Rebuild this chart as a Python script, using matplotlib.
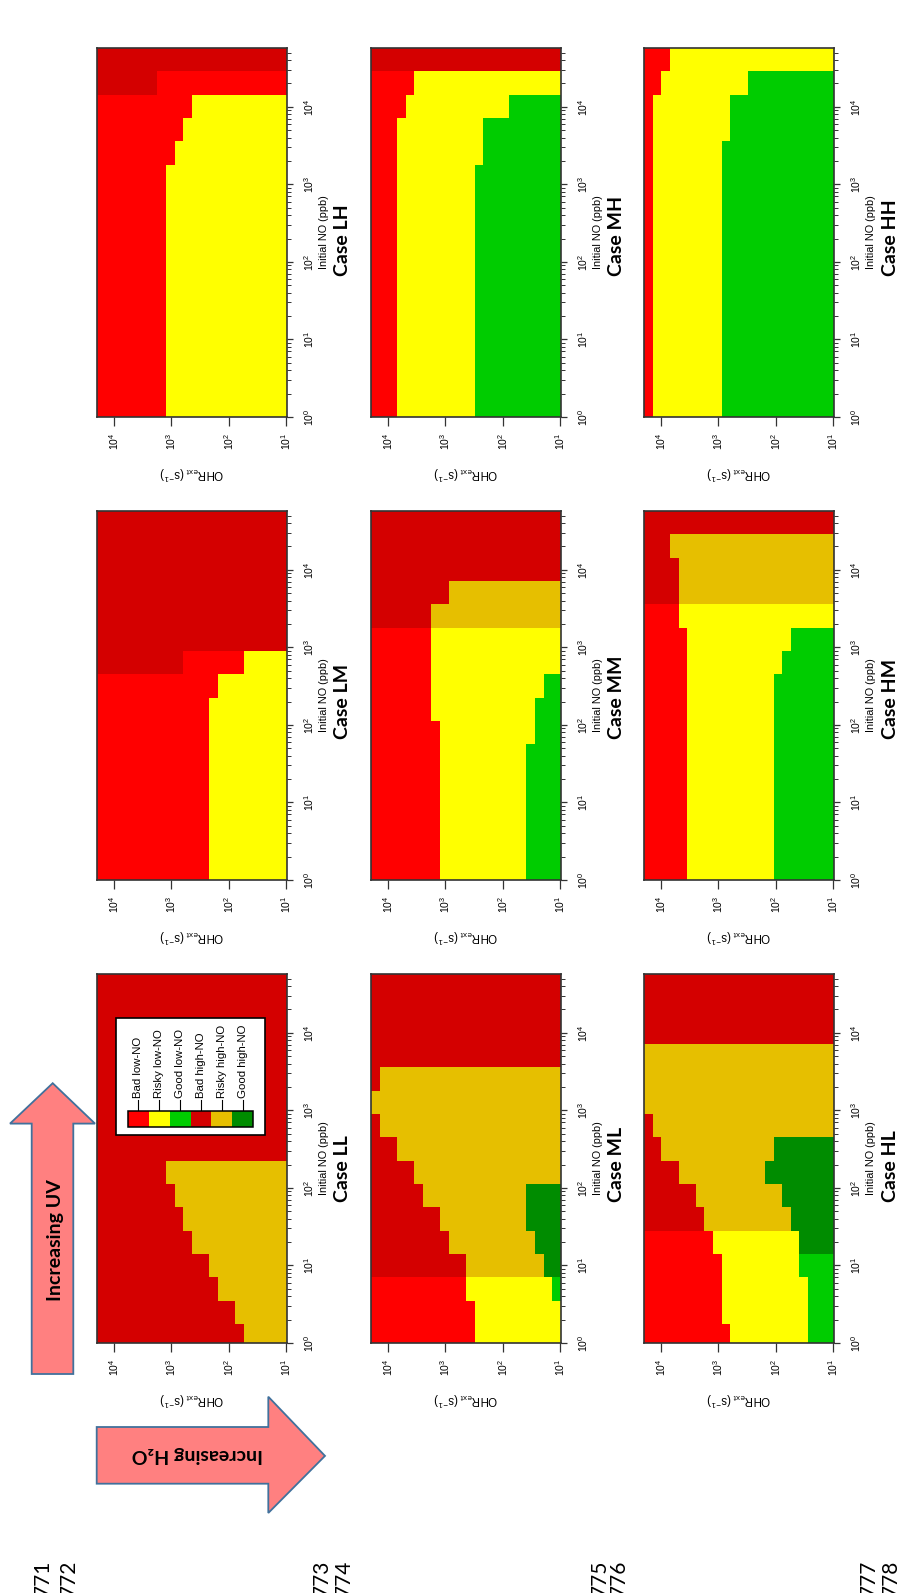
import numpy as np
import matplotlib
matplotlib.use("Agg")
import matplotlib.pyplot as plt
from matplotlib.colors import ListedColormap
from matplotlib.patches import Polygon, Rectangle
from matplotlib.lines import Line2D
from matplotlib.ticker import FixedLocator, NullLocator
from matplotlib.transforms import blended_transform_factory

plt.rcParams["font.family"] = ["Liberation Sans", "DejaVu Sans"]
plt.rcParams["mathtext.fontset"] = "custom"
plt.rcParams["mathtext.rm"] = "Liberation Sans"
plt.rcParams["mathtext.it"] = "Liberation Sans:italic"
plt.rcParams["mathtext.bf"] = "Liberation Sans:bold"
plt.rcParams["mathtext.default"] = "regular"

# =====================================================
# REGIME CLASSES
# =====================================================

regime_codes = ["r", "y", "g", "R", "Y", "G"]
regime_names = ["Bad low-NO", "Risky low-NO", "Good low-NO",
                "Bad high-NO", "Risky high-NO", "Good high-NO"]
regime_colors = ["#FF0000", "#FFFF00", "#00CC00",
                 "#D40000", "#E6BF00", "#008C00"]

# =====================================================
# MODEL GRID
# OHR_ext cells step by sqrt(2), initial NO cells by 2
# =====================================================

ohr_log_range = (4.30, 0.98)     # high OHR first
n_ohr_cells = 22
no_log_top = 4.758
no_log_step = 0.301
n_no_cells = 16

ohr_ticks = [1e1, 1e2, 1e3, 1e4]
no_ticks = [1e0, 1e1, 1e2, 1e3, 1e4]

# =====================================================
# REGIME MAPS
# one entry per NO band (highest NO first), runs of
# regime code + cell count from high to low OHR_ext
# =====================================================

case_LH = ["R22", "R7 r15", "r11 y11", "r10 y12", "r9 y13",
           "r8 y14", "r8 y14", "r8 y14", "r8 y14", "r8 y14", "r8 y14",
           "r8 y14", "r8 y14", "r8 y14", "r8 y14", "r8 y14"]

case_MH = ["R22", "r5 y17", "r4 y12 g6", "r3 y10 g9", "r3 y10 g9",
           "r3 y9 g10", "r3 y9 g10", "r3 y9 g10", "r3 y9 g10", "r3 y9 g10",
           "r3 y9 g10", "r3 y9 g10", "r3 y9 g10", "r3 y9 g10", "r3 y9 g10",
           "r3 y9 g10"]

case_HH = ["r3 y19", "r2 y10 g10", "r1 y9 g12", "r1 y9 g12",
           "r1 y8 g13", "r1 y8 g13", "r1 y8 g13", "r1 y8 g13", "r1 y8 g13",
           "r1 y8 g13", "r1 y8 g13", "r1 y8 g13", "r1 y8 g13", "r1 y8 g13",
           "r1 y8 g13", "r1 y8 g13"]

case_LM = ["R22", "R22", "R22", "R22", "R22", "R22",
           "R10 r7 y5", "r14 y8",
           "r13 y9", "r13 y9", "r13 y9", "r13 y9", "r13 y9", "r13 y9",
           "r13 y9", "r13 y9"]

case_MM = ["R22", "R22", "R22", "R9 Y13", "R7 Y15", "r7 y15", "r7 y15",
           "r7 y13 g2", "r7 y12 g3", "r8 y11 g3",
           "r8 y10 g4", "r8 y10 g4", "r8 y10 g4", "r8 y10 g4", "r8 y10 g4",
           "r8 y10 g4"]

case_HM = ["R22", "R3 Y19", "R4 Y18", "R4 Y18", "r4 y18",
           "r5 y12 g5", "r5 y11 g6",
           "r5 y10 g7", "r5 y10 g7", "r5 y10 g7", "r5 y10 g7", "r5 y10 g7",
           "r5 y10 g7", "r5 y10 g7", "r5 y10 g7", "r5 y10 g7"]

case_LL = ["R22", "R22", "R22", "R22", "R22", "R22", "R22", "R22",
           "R8 Y14", "R9 Y13", "R10 Y12", "R11 Y11", "R13 Y9", "R14 Y8",
           "R16 Y6", "R17 Y5"]

case_ML = ["R22", "R22", "R22", "R22", "R1 Y21", "Y22", "R1 Y21",
           "R3 Y19", "R5 Y17", "R6 Y12 G4", "R8 Y10 G4", "R9 Y10 G3",
           "R11 Y9 G2", "r11 y10 g1", "r12 y10", "r12 y10"]

case_HL = ["R22", "R22", "R22", "Y22", "Y22", "Y22", "R1 Y21",
           "R2 Y13 G7", "R4 Y10 G8", "R6 Y10 G6", "R7 Y10 G5",
           "r8 y10 G4", "r9 y9 g4", "r9 y10 g3", "r9 y10 g3", "r10 y9 g3"]

panel_rows = [
    [("LH", case_LH), ("MH", case_MH), ("HH", case_HH)],
    [("LM", case_LM), ("MM", case_MM), ("HM", case_HM)],
    [("LL", case_LL), ("ML", case_ML), ("HL", case_HL)],
]

line_numbers = ["771", "772", "773", "774", "775", "776", "777", "778"]


def expand_runs(bands):
    """Turn run strings into a (NO band, OHR cell) index grid."""
    grid = []
    for band in bands:
        cells = []
        for run in band.split():
            cells += [regime_codes.index(run[0])] * int(run[1:])
        grid.append(cells)
    return np.array(grid)


# =====================================================
# FIGURE LAYOUT (pixel units, origin top-left)
# =====================================================

W, H = 901, 1593
fig = plt.figure(figsize=(W / 100, H / 100), dpi=100)
fig.patch.set_facecolor("white")


def fx(x):
    return x / W


def fy(y):
    return 1 - y / H


col_x = [97, 371, 644]
row_y = [48, 511, 974]
pw, ph = 190, 369

cmap = ListedColormap(regime_colors)

ohr_edges = np.logspace(ohr_log_range[0], ohr_log_range[1], n_ohr_cells + 1)
no_edges = 10 ** (no_log_top - no_log_step * np.arange(n_no_cells + 1))

no_minor = [m * 10 ** k for k in range(5) for m in range(2, 10)
            if m * 10 ** k < 10 ** no_log_top]

frame_color = "#333333"
tick_size = 7.5

for r, row in enumerate(panel_rows):
    for c, (case_name, bands) in enumerate(row):
        x0, y0 = col_x[c], row_y[r]
        ax = fig.add_axes([fx(x0), fy(y0 + ph), pw / W, ph / H])
        ax.set_xscale("log")
        ax.set_yscale("log")

        ax.pcolormesh(
            ohr_edges,
            no_edges,
            expand_runs(bands),
            cmap=cmap,
            vmin=-0.5,
            vmax=5.5,
            shading="flat"
        )

        ax.set_xlim(10 ** ohr_log_range[0], 10 ** ohr_log_range[1])
        ax.set_ylim(1, 10 ** no_log_top)

        # ticks: OHR along the bottom, NO on the right
        ax.yaxis.tick_right()
        ax.xaxis.set_major_locator(FixedLocator(ohr_ticks))
        ax.xaxis.set_minor_locator(NullLocator())
        ax.yaxis.set_major_locator(FixedLocator(no_ticks))
        ax.yaxis.set_minor_locator(FixedLocator(no_minor))

        ax.tick_params(axis="x", which="major", direction="out",
                       length=6.5, width=0.9, color=frame_color,
                       labelbottom=False)
        ax.tick_params(axis="y", which="major", direction="out",
                       length=4.3, width=0.9, color=frame_color,
                       labelright=False, labelleft=False)
        ax.tick_params(axis="y", which="minor", direction="out",
                       length=2.7, width=0.7, color=frame_color,
                       labelright=False, labelleft=False)

        for spine in ax.spines.values():
            spine.set_linewidth(1.2)
            spine.set_color(frame_color)

        # tick labels, drawn sideways
        tr_x = blended_transform_factory(ax.transData, ax.transAxes)
        tr_y = blended_transform_factory(ax.transAxes, ax.transData)

        for t in ohr_ticks:
            ax.text(t, -24 / ph, r"$10^{%d}$" % round(np.log10(t)),
                    transform=tr_x, rotation=90, ha="center", va="center",
                    fontsize=tick_size, clip_on=False)

        for t in no_ticks:
            ax.text(1 + 22 / pw, t, r"$10^{%d}$" % round(np.log10(t)),
                    transform=tr_y, rotation=90, ha="center", va="center",
                    fontsize=tick_size, clip_on=False)

        # axis titles and case name
        fig.text(fx(x0 + pw + 37), fy(y0 + ph / 2), "Initial NO (ppb)",
                 rotation=90, ha="center", va="center", fontsize=7.8)

        fig.text(fx(x0 + pw / 2), fy(y0 + ph + 56),
                 r"OHR$_{ext}$ (s$^{-1}$)",
                 rotation=180, ha="center", va="center", fontsize=8.3)

        fig.text(fx(x0 + pw + 56), fy(y0 + ph - 141), f"Case {case_name}",
                 rotation=90, ha="center", va="bottom", fontsize=14,
                 fontweight="bold", family=["Lato", "DejaVu Sans"])

# =====================================================
# LEGEND (inside Case LL)
# =====================================================

fig.patches.append(Rectangle(
    (fx(116), fy(1135)), (265 - 116) / W, (1135 - 1018) / H,
    transform=fig.transFigure, facecolor="white",
    edgecolor="black", linewidth=1.2, zorder=5
))

bar_x0, bar_x1 = 128, 253
bar_top, bar_bot = 1111, 1127
seg_w = (bar_x1 - bar_x0) / len(regime_names)

for i, (name, color) in enumerate(zip(regime_names, regime_colors)):
    sx = bar_x0 + i * seg_w
    fig.patches.append(Rectangle(
        (fx(sx), fy(bar_bot)), seg_w / W, (bar_bot - bar_top) / H,
        transform=fig.transFigure, facecolor=color,
        edgecolor="none", zorder=6
    ))
    cx = sx + seg_w / 2
    fig.lines.append(Line2D(
        [fx(cx), fx(cx)], [fy(1100), fy(bar_top)],
        transform=fig.transFigure, color="black", linewidth=0.8, zorder=6
    ))
    fig.text(fx(cx), fy(1098), name, rotation=90, ha="center",
             va="bottom", fontsize=8.2, zorder=7)

fig.patches.append(Rectangle(
    (fx(bar_x0), fy(bar_bot)), (bar_x1 - bar_x0) / W,
    (bar_bot - bar_top) / H,
    transform=fig.transFigure, facecolor="none",
    edgecolor="black", linewidth=1.1, zorder=7
))

# =====================================================
# DIRECTION ARROWS
# =====================================================

arrow_face = "#FF8080"
arrow_edge = "#41719C"

uv_arrow = [(31.7, 1374), (31.7, 1123.6), (10, 1123.6), (52.7, 1083.2),
            (95, 1123.6), (73.3, 1123.6), (73.3, 1374)]
h2o_arrow = [(96.7, 1427), (268.3, 1427), (268.3, 1396.7), (325, 1455.9),
             (268.3, 1513), (268.3, 1483.7), (96.7, 1483.7)]

for pts in (uv_arrow, h2o_arrow):
    fig.patches.append(Polygon(
        [(fx(px), fy(py)) for px, py in pts], closed=True,
        transform=fig.transFigure, facecolor=arrow_face,
        edgecolor=arrow_edge, linewidth=1.3, zorder=3
    ))

fig.text(fx(55), fy(1240), "Increasing UV", rotation=90,
         ha="center", va="center", fontsize=14, fontweight="bold",
         family=["Lato", "DejaVu Sans"], zorder=4)

fig.text(fx(197), fy(1455), "Increasing H\u2082O", rotation=180,
         ha="center", va="center", fontsize=14, fontweight="bold",
         family=["Lato", "DejaVu Sans"], zorder=4)

# =====================================================
# PAGE LINE NUMBERS
# =====================================================

line_x = [43, 69, 322, 344, 600, 619, 869, 891]

for label, lx in zip(line_numbers, line_x):
    fig.text(fx(lx), fy(1596), label, rotation=90, ha="center",
             va="bottom", fontsize=15, family=["Lato", "DejaVu Sans"])

fig.savefig("out.png", dpi=100)
